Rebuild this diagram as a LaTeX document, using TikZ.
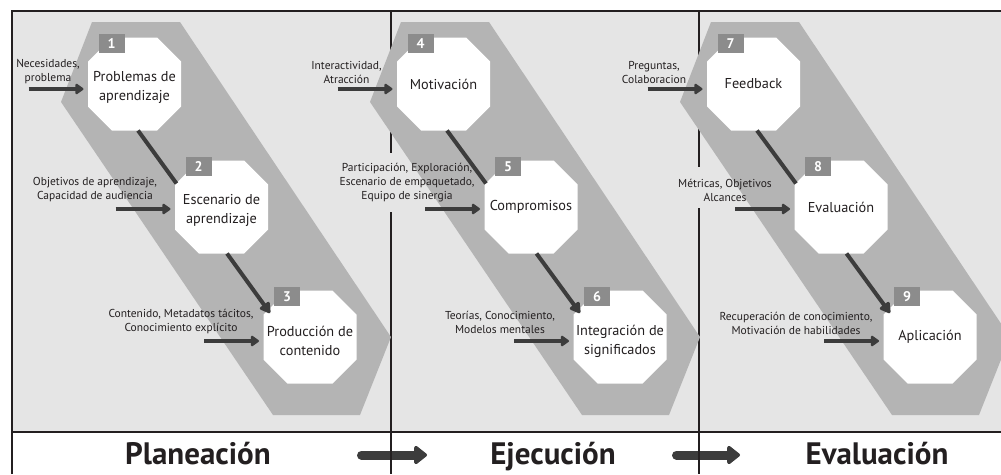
\documentclass[tikz,border=0pt]{standalone}
\usepackage{fontspec}
\setmainfont{PT Sans}
\usetikzlibrary{arrows.meta,calc}
\definecolor{bgc}{HTML}{E5E5E5}
\definecolor{bandc}{HTML}{B4B4B4}
\definecolor{numc}{HTML}{8C8C8C}
\definecolor{darkc}{HTML}{3C3C3C}
\definecolor{linec}{HTML}{231F20}
\definecolor{txtc}{HTML}{231F20}
\begin{document}
\begin{tikzpicture}[x=1pt,y=-1pt,
  octtext/.style={inner sep=0pt,align=center,font=\fontsize{14.3}{19}\selectfont,text=txtc},
  numbox/.style={fill=numc,text=white,font=\bfseries\fontsize{14}{14}\selectfont,minimum width=26pt,minimum height=19pt,inner sep=0pt},
  lbl/.style={align=center,font=\fontsize{11.5}{14}\selectfont,text=txtc,inner sep=0pt},
  conn/.style={draw=darkc,line width=4pt},
  connarrow/.style={draw=darkc,line width=4pt,-{Triangle[length=12pt,width=13pt,round]}},
  inarrow/.style={draw=darkc,line width=4pt,-{Triangle[length=9pt,width=12pt,round]}},
  title/.style={font=\bfseries\fontsize{31}{31}\selectfont,text=txtc,anchor=base,inner sep=0pt},
  bigarrow/.style={draw=darkc,line width=9pt,line cap=round,-{Triangle[length=14pt,width=21pt,round]}},
  divider/.style={draw=linec,line width=1.5pt},
  frame/.style={draw=linec,line width=2pt}
]
\useasboundingbox (0,0) rectangle (1001,474);
\clip (0,0) rectangle (1001,474);
% background
\fill[bgc] (12,11) rectangle (1001,432);
% dividers
\draw[divider] (391,11) -- (391,474);
\draw[divider] (699,11) -- (699,474);
\fill[bgc] (388,153) rectangle (394,212);
\fill[bgc] (696,167) rectangle (702,208);
% bands
\foreach \dx in {0,309,619}
  \fill[bandc,shift={(\dx,0)}] (92,22) -- (180,22) -- (391,337) -- (360,415) -- (273,415) -- (61,102) -- cycle;
% frame
\draw[frame] (12,474) -- (12,11) -- (1001,11);
\draw[frame] (12,432) -- (1001,432);
% octagon centres
\coordinate (c1) at (134.5,84);
\coordinate (c2) at (221.5,207);
\coordinate (c3) at (310,337);
\coordinate (c4) at (443.5,84);
\coordinate (c5) at (531,207);
\coordinate (c6) at (620,337);
\coordinate (c7) at (753.5,84);
\coordinate (c8) at (841,207);
\coordinate (c9) at (930,337);
\foreach \c in {c1,c2,c3,c4,c5,c6,c7,c8,c9}
  \fill[white,shift={(\c)}] (-22.5,-46.5) -- (22.5,-46.5) -- (46.5,-22.5) -- (46.5,22.5) -- (22.5,46.5) -- (-22.5,46.5) -- (-46.5,22.5) -- (-46.5,-22.5) -- cycle;
% number boxes
\foreach \c/\n in {c1/1,c2/2,c3/3,c4/4,c5/5,c6/6,c7/7,c8/8,c9/9}
  \node[numbox] (n\n) at ($(\c)+(-23,-40.5)$) {\n};
% octagon texts
\node[octtext] (o1) at ($(c1)+(0,3.5)$) {Problemas de\\aprendizaje};
\node[octtext] (o2) at ($(c2)+(0,3)$) {Escenario de\\aprendizaje};
\node[octtext] (o3) at ($(c3)+(0,4)$) {Producción de\\contenido};
\node[octtext] (o4) at ($(c4)+(0,0)$) {Motivación};
\node[octtext] (o5) at ($(c5)+(0,0)$) {Compromisos};
\node[octtext] (o6) at ($(c6)+(0,4)$) {Integración de\\significados};
\node[octtext] (o7) at ($(c7)+(0,0)$) {Feedback};
\node[octtext] (o8) at ($(c8)+(0,0)$) {Evaluación};
\node[octtext] (o9) at ($(c9)+(0,0)$) {Aplicación};
% connectors
\foreach \a/\b in {c1/c2,c4/c5,c7/c8}
  \draw[conn] ($(\a)+(3.5,46.5)$) -- ($(\b)+(-45,-23.5)$);
\foreach \a/\b in {c2/c3,c5/c6,c8/c9}
  \draw[connarrow] ($(\a)+(5.5,46.5)$) -- ($(\b)+(-40,-24)$);
% input arrows
\foreach \c/\dy in {c1/5,c4/5,c7/5,c2/2,c5/2,c8/2,c3/4,c6/4,c9/4}
  \draw[inarrow] ($(\c)+(-106,\dy)$) -- ($(\c)+(-51,\dy)$);
% labels
\node[lbl] (l1) at (48,72) {Necesidades,\\problema};
\node[lbl] (l2) at (95,190) {Objetivos de aprendizaje,\\Capacidad de audiencia};
\node[lbl] (l3) at (181,322) {Contenido, Metadatos tácitos,\\Conocimiento explícito};
\node[lbl] (l4) at (346.5,72) {Interactividad,\\Atracción};
\node[lbl] (l5) at (407,183) {Participación, Exploración,\\Escenario de empaquetado,\\Equipo de sinergia};
\node[lbl] (l6) at (500,322) {Teorías, Conocimiento,\\Modelos mentales};
\node[lbl] (l7) at (654,72) {Preguntas,\\Colaboracion};
\node[lbl] (l8) at (725,190) {Métricas, Objetivos\\Alcances};
\node[lbl] (l9) at (796,323) {Recuperación de conocimiento,\\Motivación de habilidades};
% titles
\node[title] (t1) at (198,464) {Planeación};
\node[title] (t2) at (553,464) {Ejecución};
\node[title] (t3) at (877,464) {Evaluación};
\coordinate (a1s) at (361.5,455);
\coordinate (a1e) at (427,455);
\coordinate (a2s) at (676.5,455);
\coordinate (a2e) at (740,455);
\draw[bigarrow] (a1s) -- (a1e);
\draw[bigarrow] (a2s) -- (a2e);
\draw[divider] (391,432) -- (391,474);
\draw[divider] (699,432) -- (699,474);
\end{tikzpicture}
\end{document}
